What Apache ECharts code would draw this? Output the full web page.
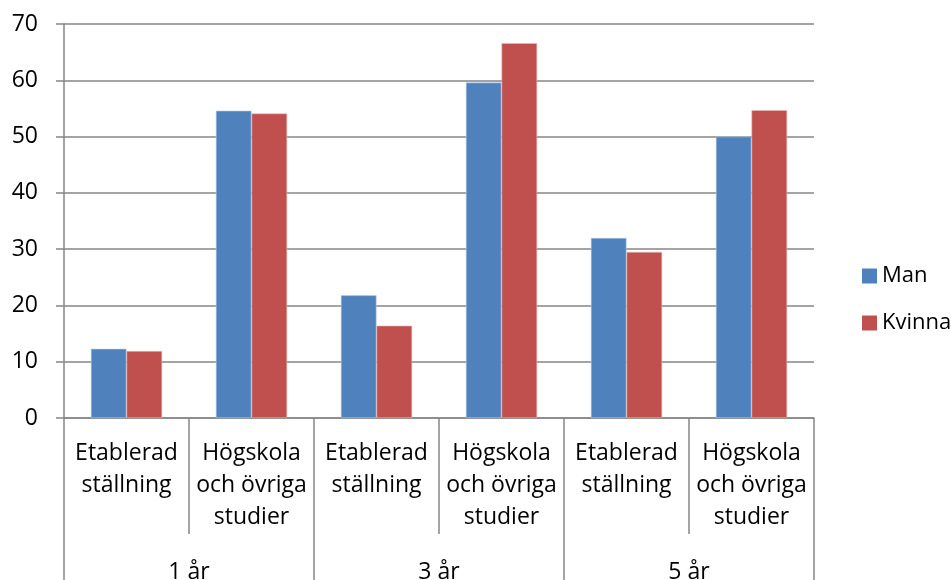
<!DOCTYPE html>
<html>
<head>
<meta charset="utf-8">
<script src="https://cdn.jsdelivr.net/npm/echarts@6/dist/echarts.min.js"></script>
<style>
html,body{margin:0;padding:0;background:#fff;}
#chart{width:951px;height:580px;}
</style>
</head>
<body>
<div id="chart"></div>
<script>
const categories = ["Etablerad\nställning", "Högskola\noch övriga\nstudier", "Etablerad\nställning", "Högskola\noch övriga\nstudier", "Etablerad\nställning", "Högskola\noch övriga\nstudier"];
const groups = ["1 år", "3 år", "5 år"];
const seriesNames = ["Man", "Kvinna"];
const manValues = [12.3, 54.6, 21.8, 59.6, 32.0, 50.0];
const kvinnaValues = [11.9, 54.1, 16.4, 66.6, 29.5, 54.7];
const yTicks = [0, 10, 20, 30, 40, 50, 60, 70];

const FONT = '"Open Sans", sans-serif';
const GRAY = '#868686';
const FS = 23;
const chart = echarts.init(document.getElementById('chart'), null, {renderer: 'canvas'});
chart.setOption({
  animation: false,
  backgroundColor: '#ffffff',
  textStyle: {fontFamily: FONT},
  grid: {left: 64, right: 137, top: 24, bottom: 162, containLabel: false, outerBoundsMode: 'none'},
  legend: {
    orient: 'vertical',
    left: 857,
    top: 260,
    itemWidth: 15,
    itemHeight: 15,
    itemGap: 25,
    icon: 'rect',
    data: seriesNames,
    itemStyle: {borderWidth: 0},
    textStyle: {fontFamily: FONT, fontSize: 22, color: '#000'}
  },
  xAxis: [
    {
      type: 'category',
      data: categories,
      position: 'bottom',
      axisLine: {show: true, lineStyle: {color: GRAY, width: 1.5}},
      axisTick: {show: true, length: 116, lineStyle: {color: GRAY, width: 1.5}},
      axisLabel: {fontFamily: FONT, fontSize: FS, color: '#000', margin: 19, lineHeight: 32, interval: 0},
      splitLine: {show: false}
    },
    {
      type: 'category',
      data: groups,
      position: 'bottom',
      axisLine: {show: false},
      axisTick: {show: true, length: 175, lineStyle: {color: GRAY, width: 1.5}},
      axisLabel: {fontFamily: FONT, fontSize: FS, color: '#000', margin: 143, lineHeight: 23, interval: 0},
      splitLine: {show: false}
    }
  ],
  yAxis: {
    type: 'value',
    min: yTicks[0],
    max: yTicks[yTicks.length - 1],
    interval: 10,
    axisLine: {show: true, lineStyle: {color: GRAY, width: 1.5}},
    axisTick: {show: true, length: 8, lineStyle: {color: GRAY, width: 1.5}},
    axisLabel: {fontFamily: FONT, fontSize: FS, color: '#000', margin: 26},
    splitLine: {show: true, lineStyle: {color: GRAY, width: 1.5}}
  },
  series: [
    {
      name: seriesNames[0],
      type: 'bar',
      xAxisIndex: 0,
      data: manValues,
      barGap: '0%',
      barCategoryGap: '43%',
      itemStyle: {color: '#4F81BD', borderColor: '#b9cde5', borderWidth: 0.6}
    },
    {
      name: seriesNames[1],
      type: 'bar',
      xAxisIndex: 0,
      data: kvinnaValues,
      barGap: '0%',
      barCategoryGap: '43%',
      itemStyle: {color: '#C0504D', borderColor: '#e6b9b8', borderWidth: 0.6}
    }
  ]
});
</script>
</body>
</html>
